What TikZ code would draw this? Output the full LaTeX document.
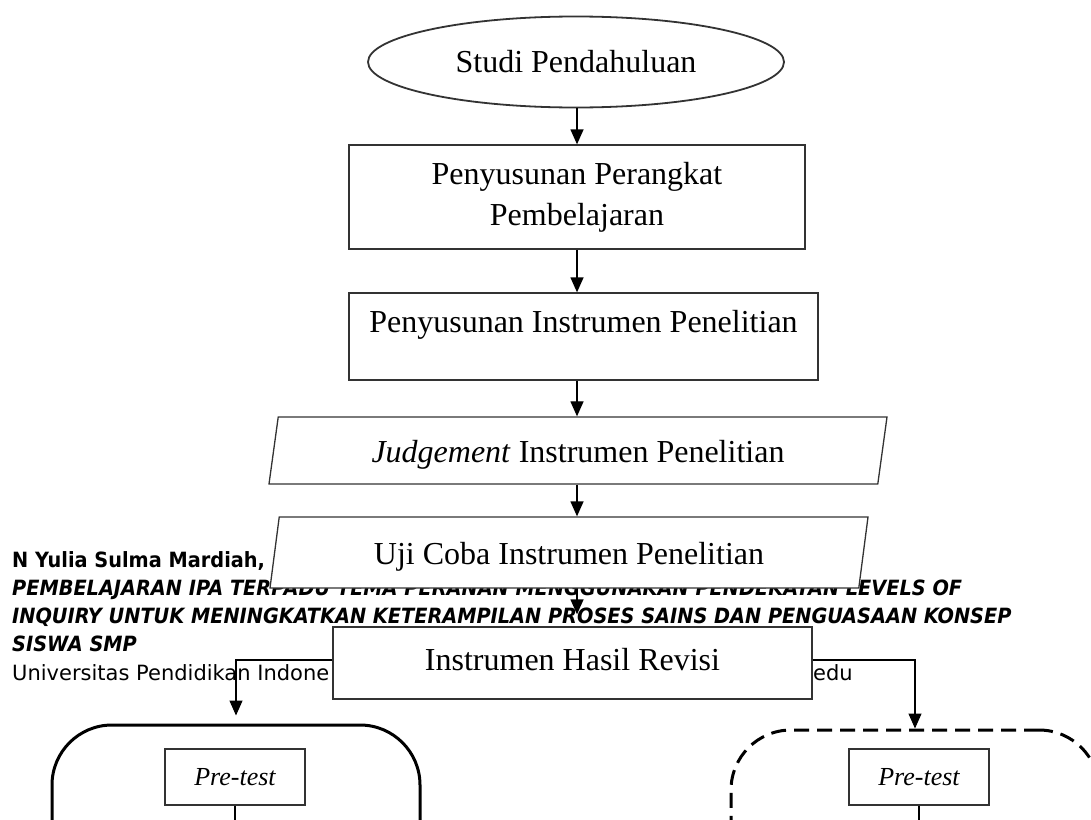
\documentclass[tikz,border=0pt]{standalone}
\usepackage{fontspec}
\setmainfont{Liberation Serif}
\newfontfamily\footfont{DejaVu Sans}
\newfontfamily\footboldfont[FakeStretch=0.92]{DejaVu Sans}
\usetikzlibrary{shapes.geometric, arrows.meta}

\tikzset{
  flowbox/.style={draw=black!80, line width=1.3pt, fill=white, font=\fontsize{32}{41}\selectfont, inner sep=0pt},
  slantbox/.style={flowbox, trapezium, trapezium left angle=76, trapezium right angle=104, trapezium stretches body, text height=30pt, text depth=7pt},
  testbox/.style={draw=black!80, line width=1.3pt, fill=white, font=\fontsize{26}{30}\selectfont\itshape, minimum width=140pt, minimum height=56pt},
  groupbox/.style={draw=black, line width=3pt, rounded corners=60pt, minimum width=368pt, minimum height=300pt},
  arr/.style={-{Triangle[width=13pt,length=15pt]}, line width=1.3pt},
  footline/.style={anchor=base west, inner sep=0pt, font=\fontsize{21}{28}\footboldfont\bfseries\itshape},
}

\begin{document}
\begin{tikzpicture}[x=1pt, y=-1pt]
\useasboundingbox (0,0) rectangle (1091,819);
\clip (0,0) rectangle (1091,819);

% page footer behind the chart
\node[footline, font=\fontsize{21}{28}\footboldfont\bfseries] (foot1) at (12,567) {N Yulia Sulma Mardiah,};
\node[footline] (foot2) at (12,595) {PEMBELAJARAN IPA TERPADU TEMA PERANAN MENGGUNAKAN PENDEKATAN LEVELS OF};
\node[footline] (foot3) at (12,623) {INQUIRY UNTUK MENINGKATKAN KETERAMPILAN PROSES SAINS DAN PENGUASAAN KONSEP};
\node[footline] (foot4) at (12,651) {SISWA SMP};
\node[footline, font=\fontsize{21}{28}\footfont] (foot5) at (12,680) {Universitas Pendidikan Indone};
\node[footline, font=\fontsize{21}{28}\footfont] (foot6) at (813,680) {edu};

% main flow
\coordinate (axis) at (577,0);
\node[flowbox, ellipse, minimum width=416pt, minimum height=91pt, line width=1.8pt] (studi) at (576,62) {Studi Pendahuluan};
\node[flowbox, minimum width=456pt, minimum height=104pt, align=center] (perangkat) at (577,197) {Penyusunan Perangkat\\Pembelajaran};
\node[flowbox, minimum width=469pt, minimum height=87pt, text height=22pt, text depth=30pt] (instrumen) at (583.5,336.5) {Penyusunan Instrumen Penelitian};
\node[slantbox, minimum width=618pt, minimum height=67pt] (judgement) at (578,450.5) {\textit{Judgement} Instrumen Penelitian};
\node[slantbox, minimum width=598pt, minimum height=71pt] (ujicoba) at (569,552.5) {Uji Coba Instrumen Penelitian};
\node[flowbox, minimum width=479pt, minimum height=72pt, text depth=8pt] (revisi) at (572.5,663) {Instrumen Hasil Revisi};

\draw[arr] (axis |- studi.south) -- (axis |- perangkat.north);
\draw[arr] (axis |- perangkat.south) -- (axis |- instrumen.north);
\draw[arr] (axis |- instrumen.south) -- (axis |- judgement.north);
\draw[arr] (axis |- judgement.south) -- (axis |- ujicoba.north);
\draw[arr, shorten >=12pt] (axis |- ujicoba.south) -- (axis |- revisi.north);

% two groups
\node[groupbox] (lgroup) at (236,875) {};
\node[groupbox, dash pattern=on 15pt off 8pt] (rgroup) at (915,880) {};

\draw[arr, shorten >=8pt] ([yshift=3pt]revisi.west) -| (lgroup.north);
\draw[arr] ([yshift=3pt]revisi.east) -| (rgroup.north);

\node[testbox] (lpre) at (235,777) {Pre-test};
\node[testbox] (rpre) at (919,777) {Pre-test};
\coordinate (lend) at (235,840);
\coordinate (rend) at (919,840);
\draw[line width=1.3pt] (lpre.south) -- (lend);
\draw[line width=1.3pt] (rpre.south) -- (rend);
\end{tikzpicture}
\end{document}
